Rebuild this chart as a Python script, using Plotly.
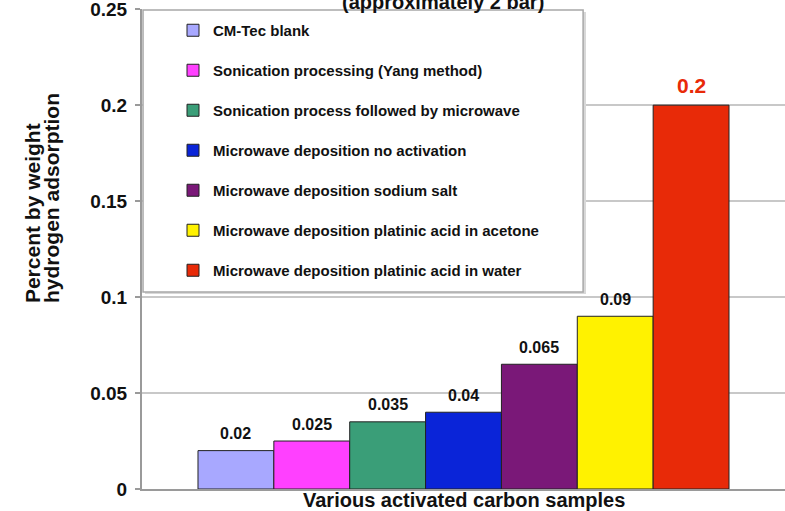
import plotly.graph_objects as go

# Hydrogen uptake of activated carbon samples
samples = [
    "CM-Tec blank",
    "Sonication processing (Yang method)",
    "Sonication process followed by microwave",
    "Microwave deposition no activation",
    "Microwave deposition sodium salt",
    "Microwave deposition platinic acid in acetone",
    "Microwave deposition platinic acid in water",
]
adsorption = [0.02, 0.025, 0.035, 0.04, 0.065, 0.09, 0.2]
bar_colors = ["#a8a8ff", "#ff40ff", "#3a9e78", "#0a24d8", "#7a1878", "#fff200", "#e82a08"]
y_ticks = [0, 0.05, 0.1, 0.15, 0.2, 0.25]
y_tick_text = ["0", "0.05", "0.1", "0.15", "0.2", "0.25"]

FONT = "Arial, Liberation Sans, sans-serif"

fig = go.Figure()
for i, (name, val, col) in enumerate(zip(samples, adsorption, bar_colors)):
    fig.add_trace(go.Bar(
        x=[i], y=[val], width=[1.0], name=name, legendgroup=name,
        marker=dict(color=col, line=dict(color="#222222", width=1)),
        hoverinfo="name+y",
    ))

# value labels above each bar
annotations = []
for i, val in enumerate(adsorption):
    last = i == len(adsorption) - 1
    annotations.append(dict(
        x=i, y=val, xref="x", yref="y", text=f"{val:g}", showarrow=False,
        yanchor="middle", yshift=20 if last else 17,
        font=dict(family=FONT, size=21 if last else 16, weight="bold",
                  color="#e82a08" if last else "#111111"),
    ))

# axis titles and the heading line
annotations += [
    dict(x=0.5, y=-0.023, xref="paper", yref="paper",
         text="Various activated carbon samples", showarrow=False,
         xanchor="center", yanchor="middle",
         font=dict(family=FONT, size=20, weight="bold", color="#111111")),
    dict(x=-0.1710, y=0.3833, xref="paper", yref="paper",
         text="Percent by weight", showarrow=False, textangle=-90,
         xanchor="center", yanchor="bottom",
         font=dict(family=FONT, size=21, weight="bold", color="#111111")),
    dict(x=-0.1415, y=0.3833, xref="paper", yref="paper",
         text="hydrogen adsorption", showarrow=False, textangle=-90,
         xanchor="center", yanchor="bottom",
         font=dict(family=FONT, size=21, weight="bold", color="#111111")),
    dict(x=0.468, y=1, xref="paper", yref="paper",
         text="(approximately 2 bar)", showarrow=False,
         xanchor="center", yanchor="bottom", yshift=-6,
         font=dict(family=FONT, size=20, weight="bold", color="#111111")),
]

# legend frame with a soft shadow
shapes = [
    dict(type="rect", xref="paper", yref="paper", layer="above",
         x0=0.0047, x1=0.6905, y0=0.4063, y1=0.9938,
         line=dict(width=0), fillcolor="#d8d8d8"),
    dict(type="rect", xref="paper", yref="paper", layer="above",
         x0=0.0016, x1=0.686, y0=0.4104, y1=0.998,
         line=dict(color="#a8a8a8", width=1.5), fillcolor="white"),
]

fig.update_layout(
    width=785, height=511,
    margin=dict(l=142, r=0, t=9, b=22),
    paper_bgcolor="white", plot_bgcolor="white",
    barmode="overlay",
    showlegend=True,
    legend=dict(
        x=(173 - 142) / 643, y=(489 - 14) / 480, xanchor="left", yanchor="top",
        bgcolor="rgba(0,0,0,0)", borderwidth=0,
        font=dict(family=FONT, size=15, weight="bold", color="#111111"),
        tracegroupgap=17.5, traceorder="grouped",
    ),
    xaxis=dict(range=[-1.238, 7.238], showticklabels=False, showgrid=False,
               zeroline=False, showline=True, linecolor="#9a9a9a", linewidth=2,
               ticks="", fixedrange=True),
    yaxis=dict(range=[0, 0.2501], tickvals=y_ticks, ticktext=y_tick_text,
               showgrid=True, gridcolor="#c8c8c8", gridwidth=1.5,
               zeroline=False, showline=True, linecolor="#9a9a9a", linewidth=2,
               ticks="outside", ticklen=5, tickcolor="#9a9a9a", tickwidth=1.5,
               ticklabelstandoff=4, ticklabeloverflow="allow",
               tickfont=dict(family=FONT, size=19, weight="bold", color="#111111")),
    annotations=annotations,
    shapes=shapes,
)

fig.write_html("out.html")
